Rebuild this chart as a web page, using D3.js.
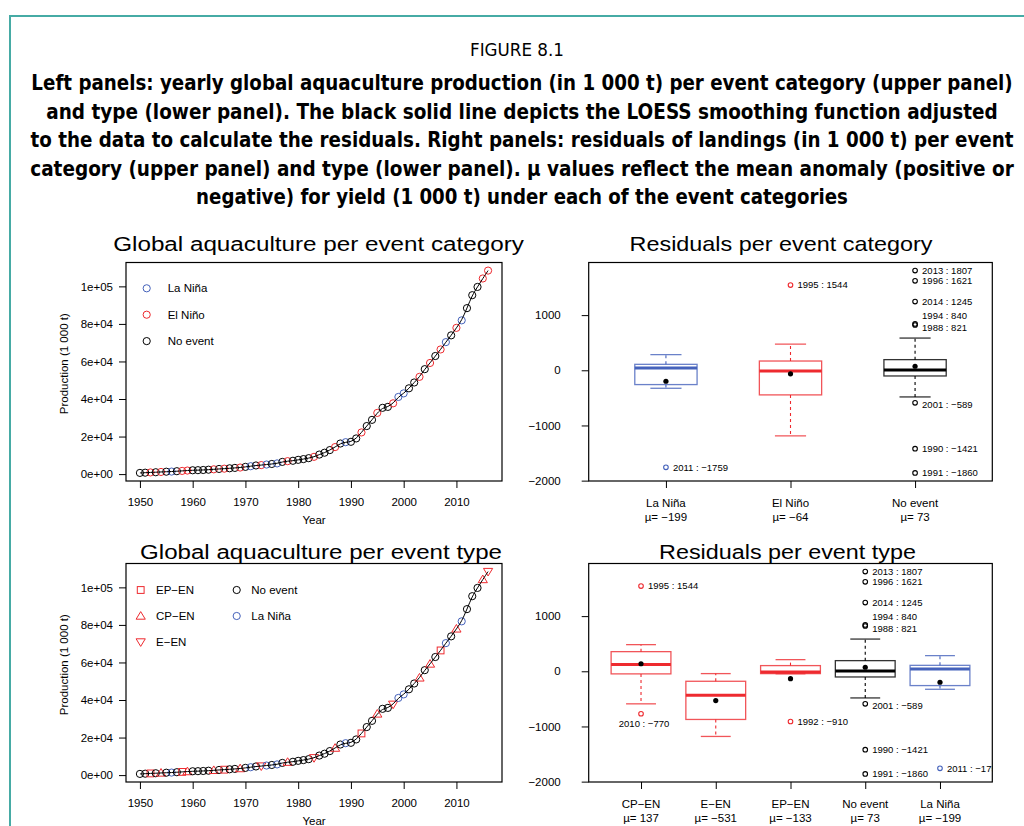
<!DOCTYPE html>
<html>
<head>
<meta charset="utf-8">
<script src="https://cdn.jsdelivr.net/npm/d3@7"></script>
<style>
  body { margin: 0; background: #fff; }
  svg { display: block; }
</style>
</head>
<body>
<script>
// ---- data ----
var figureLabel = "FIGURE 8.1";
var captionLines = [
  "Left panels: yearly global aquaculture production (in 1 000 t) per event category (upper panel)",
  "and type (lower panel). The black solid line depicts the LOESS smoothing function adjusted",
  "to the data to calculate the residuals. Right panels: residuals of landings (in 1 000 t) per event",
  "category (upper panel) and type (lower panel). \u00b5 values reflect the mean anomaly (positive or",
  "negative) for yield (1 000 t) under each of the event categories"
];

var years = [
  1950, 1951, 1952, 1953, 1954, 1955, 1956, 1957, 1958, 1959,
  1960, 1961, 1962, 1963, 1964, 1965, 1966, 1967, 1968, 1969,
  1970, 1971, 1972, 1973, 1974, 1975, 1976, 1977, 1978, 1979,
  1980, 1981, 1982, 1983, 1984, 1985, 1986, 1987, 1988, 1989,
  1990, 1991, 1992, 1993, 1994, 1995, 1996, 1997, 1998, 1999,
  2000, 2001, 2002, 2003, 2004, 2005, 2006, 2007, 2008, 2009,
  2010, 2011, 2012, 2013, 2014, 2015, 2016
];
var production = [
  640, 760, 900, 1000, 1150, 1280, 1350, 1550, 1700, 1900,
  2050, 2100, 2200, 2350, 2550, 2750, 2900, 3100, 3300, 3500,
  3850, 4200, 4600, 4800, 5100, 5400, 5700, 6500, 6900, 7100,
  7600, 8000, 8500, 9200, 10400, 11400, 12800, 14400, 16300, 17000,
  17200, 19000, 22200, 25600, 28900, 32600, 35300, 35800, 37700, 41100,
  43000, 45700, 48800, 51800, 55900, 59200, 62900, 66400, 70300, 73900,
  77900, 81900, 88400, 95300, 99700, 104200, 108400
];
// N = no event, L = La Niña, E = El Niño
var eventCategory = [
  "N","N","E","N","E","N","L","N","E","E",
  "N","N","N","N","E","N","E","N","N","E",
  "N","L","N","E","L","N","L","N","E","N",
  "N","N","N","E","N","N","N","E","N","L",
  "N","N","E","N","N","E","N","N","E","L",
  "L","N","N","E","N","E","N","E","L","N",
  "E","L","N","N","N","E","E"
];
var eventType = [
  "N","N","EP","N","CP","N","L","N","EP","CP",
  "N","N","N","N","CP","N","EP","N","N","CP",
  "N","L","N","EE","L","N","L","N","CP","N",
  "N","N","N","EE","N","N","N","CP","N","L",
  "N","N","EP","N","N","CP","N","N","EE","L",
  "L","N","N","CP","N","CP","N","EP","L","N",
  "CP","L","N","N","N","CP","EE"
];

var prodTicks = [0, 20000, 40000, 60000, 80000, 100000];
var yearTicks = [1950, 1960, 1970, 1980, 1990, 2000, 2010];
var residTicks = [-2000, -1000, 0, 1000];

// residuals per event category
var catNames  = ["La Ni\u00f1a", "El Ni\u00f1o", "No event"];
var catLow    = [-326, -1188, -483];
var catQ1     = [-259, -446, -103];
var catMedian = [42, -12, 5];
var catQ3     = [108, 168, 193];
var catHigh   = [284, 476, 584];
var catMean   = [-199, -64, 73];
var catOutliers = [
  [0, 2011, -1759],
  [1, 1995, 1544],
  [2, 2013, 1807], [2, 1996, 1621], [2, 2014, 1245], [2, 1994, 840],
  [2, 1988, 821], [2, 2001, -589], [2, 1990, -1421], [2, 1991, -1860]
];

// residuals per event type
var typeNames  = ["CP\u2212EN", "E\u2212EN", "EP\u2212EN", "No event", "La Ni\u00f1a"];
var typeLow    = [-590, -1181, -45, -483, -326];
var typeQ1     = [-47, -873, -42, -103, -259];
var typeMedian = [121, -434, -12, 5, 42];
var typeQ3     = [356, -181, 103, 193, 108];
var typeHigh   = [483, -42, 211, 584, 284];
var typeMean   = [137, -531, -133, 73, -199];
var typeOutliers = [
  [0, 1995, 1544], [0, 2010, -770],
  [2, 1992, -910],
  [3, 2013, 1807], [3, 1996, 1621], [3, 2014, 1245], [3, 1994, 840],
  [3, 1988, 821], [3, 2001, -589], [3, 1990, -1421], [3, 1991, -1860],
  [4, 2011, -1759]
];

// ---- styling ----
var BLUE = "#4562bb", RED = "#ee2a2f", BLACK = "#000";
var FONT = "'Liberation Sans', Arial, sans-serif";
var NARROW = "'Liberation Sans Narrow', 'DejaVu Sans Condensed', 'Liberation Sans', sans-serif";
var MINUS = "\u2212";
var catColor = { N: BLACK, L: BLUE, E: RED };
var typeStyle = {
  N: { shape: "circle", color: BLACK },
  L: { shape: "circle", color: BLUE },
  EP: { shape: "square", color: RED },
  CP: { shape: "up", color: RED },
  EE: { shape: "down", color: RED }
};
// special placement of a few outlier labels
var labelNudge = { 1994: -8, 1988: 2.5, 2001: 2 };

function pad(e) { var p = (e[1] - e[0]) * 0.04; return [e[0] - p, e[1] + p]; }
function num(v) { return (v < 0 ? MINUS : "") + Math.abs(v); }
function sci(v) {
  return d3.format(".0e")(v).replace(/e([+-])(\d)$/, "e$10$2");
}

var svg = d3.select("body").append("svg")
  .attr("width", 1024).attr("height", 826)
  .style("font-family", FONT);
var defs = svg.append("defs");

// text squeezed/stretched horizontally to a given width, centred on cx
function fitText(cx, y, width, t, family, size, weight) {
  var el = svg.append("text")
    .attr("x", 0).attr("y", 0).attr("text-anchor", "middle")
    .attr("font-family", family).attr("font-size", size)
    .attr("font-weight", weight || "normal")
    .text(t);
  var w = el.node().getComputedTextLength() || width;
  el.attr("transform", "translate(" + cx + "," + y + ") scale(" + (width / w) + ",1)");
  return el;
}

// frame
svg.append("path")
  .attr("d", "M10,830V16H1030")
  .attr("fill", "none").attr("stroke", "#46aba5").attr("stroke-width", 2);

// caption
fitText(517, 56, 94, figureLabel, NARROW, 18);
var captionWidths = [982, 952, 984, 984, 652];
captionLines.forEach(function (t, i) {
  fitText(522, 90 + i * 28.5, captionWidths[i], t, NARROW, 21, "bold");
});

function drawSymbol(g, shape, color, cx, cy) {
  if (shape === "circle") {
    g.append("circle").attr("cx", cx).attr("cy", cy).attr("r", 3.6)
      .attr("fill", "none").attr("stroke", color).attr("stroke-width", 1);
  } else if (shape === "square") {
    g.append("rect").attr("x", cx - 3.4).attr("y", cy - 3.4)
      .attr("width", 6.8).attr("height", 6.8)
      .attr("fill", "none").attr("stroke", color).attr("stroke-width", 1);
  } else {
    var s = shape === "up" ? 1 : -1;
    g.append("path")
      .attr("d", "M" + cx + "," + (cy - 4.4 * s) + "L" + (cx + 4.6) + "," + (cy + 3.2 * s) +
        "L" + (cx - 4.6) + "," + (cy + 3.2 * s) + "Z")
      .attr("fill", "none").attr("stroke", color).attr("stroke-width", 1);
  }
}

function styleAxis(g) {
  g.select(".domain").remove();
  g.selectAll("line").attr("stroke", BLACK);
  g.selectAll("text").attr("fill", BLACK).attr("font-size", 11.5).attr("font-family", FONT);
}

// ---- left panels: production ----
var LX0 = 126, LX1 = 502, PH = 218.5;
var xYear = d3.scaleLinear().domain(pad(d3.extent(years))).range([LX0, LX1]);

function scatterPanel(top, styleOf) {
  var bottom = top + PH;
  var y = d3.scaleLinear().domain(pad(d3.extent(production))).range([bottom, top]);
  var g = svg.append("g");

  years.forEach(function (yr, i) {
    var st = styleOf(i);
    drawSymbol(g, st.shape, st.color, xYear(yr), y(production[i]));
  });

  g.append("path").datum(years)
    .attr("d", d3.line()
      .x(function (d) { return xYear(d); })
      .y(function (d, i) { return y(production[i]); })
      .curve(d3.curveBasis))
    .attr("fill", "none").attr("stroke", BLACK).attr("stroke-width", 1);

  g.append("rect").attr("x", LX0).attr("y", top).attr("width", LX1 - LX0).attr("height", PH)
    .attr("fill", "none").attr("stroke", BLACK).attr("stroke-width", 1.2);

  g.append("g").attr("transform", "translate(" + LX0 + ",0)")
    .call(d3.axisLeft(y).tickValues(prodTicks).tickSize(7).tickPadding(6).tickFormat(sci))
    .call(styleAxis);
  g.append("g").attr("transform", "translate(0," + bottom + ")")
    .call(d3.axisBottom(xYear).tickValues(yearTicks).tickSize(7).tickPadding(10).tickFormat(d3.format("d")))
    .call(styleAxis);

  g.append("text").attr("x", (LX0 + LX1) / 2).attr("y", bottom + 43)
    .attr("text-anchor", "middle").attr("font-size", 11.5).text("Year");
  g.append("text")
    .attr("transform", "translate(68," + (top + PH / 2 - 8) + ") rotate(-90)")
    .attr("text-anchor", "middle").attr("font-size", 11.5).text("Production (1 000 t)");
  return g;
}

// upper left
fitText(318.5, 251, 411, "Global aquaculture per event category", FONT, 21);
var ul = scatterPanel(262.5, function (i) {
  return { shape: "circle", color: catColor[eventCategory[i]] };
});
[["L", "La Ni\u00f1a"], ["E", "El Ni\u00f1o"], ["N", "No event"]].forEach(function (d, i) {
  var cy = 288.3 + i * 26.4;
  drawSymbol(ul, "circle", catColor[d[0]], 146.7, cy);
  ul.append("text").attr("x", 167.7).attr("y", cy).attr("dy", "0.35em")
    .attr("font-size", 11.5).text(d[1]);
});

// lower left
fitText(321, 559, 362, "Global aquaculture per event type", FONT, 21);
var ll = scatterPanel(563.5, function (i) { return typeStyle[eventType[i]]; });
[["EP", "EP\u2212EN", 0, 0], ["CP", "CP\u2212EN", 0, 1], ["EE", "E\u2212EN", 0, 2],
 ["N", "No event", 1, 0], ["L", "La Ni\u00f1a", 1, 1]].forEach(function (d) {
  var st = typeStyle[d[0]];
  var sx = d[2] ? 236.7 : 140.7, tx = d[2] ? 251.3 : 156, cy = 590 + d[3] * 26;
  drawSymbol(ll, st.shape, st.color, sx, cy);
  ll.append("text").attr("x", tx).attr("y", cy).attr("dy", "0.35em")
    .attr("font-size", 11.5).text(d[1]);
});

// ---- right panels: residual boxplots ----
var RX0 = 588.7, RX1 = 992.3;

function boxPanel(top, id, names, low, q1, med, q3, high, mean, outliers, colors, boxW) {
  var bottom = top + PH, n = names.length;
  var all = low.concat(high, outliers.map(function (o) { return o[2]; }));
  var y = d3.scaleLinear().domain(pad(d3.extent(all))).range([bottom, top]);
  var x = d3.scaleLinear().domain([0.5 - 0.04 * n, n + 0.5 + 0.04 * n]).range([RX0, RX1]);
  var unit = x(2) - x(1), hw = unit * boxW / 2;
  var g = svg.append("g");

  defs.append("clipPath").attr("id", id).append("rect")
    .attr("x", RX0).attr("y", top).attr("width", RX1 - RX0).attr("height", PH);

  names.forEach(function (nm, i) {
    var cx = x(i + 1), c = colors[i];
    var bg = g.append("g");
    bg.append("line").attr("x1", cx).attr("x2", cx).attr("y1", y(q3[i])).attr("y2", y(high[i]))
      .attr("stroke", c).attr("stroke-dasharray", "3,3").attr("stroke-width", 1.1);
    bg.append("line").attr("x1", cx).attr("x2", cx).attr("y1", y(q1[i])).attr("y2", y(low[i]))
      .attr("stroke", c).attr("stroke-dasharray", "3,3").attr("stroke-width", 1.1);
    [high[i], low[i]].forEach(function (v) {
      bg.append("line").attr("x1", cx - hw / 2).attr("x2", cx + hw / 2)
        .attr("y1", y(v)).attr("y2", y(v))
        .attr("stroke", c).attr("stroke-width", 1.3).attr("stroke-opacity", 0.8);
    });
    bg.append("rect").attr("x", cx - hw).attr("width", 2 * hw)
      .attr("y", y(q3[i])).attr("height", y(q1[i]) - y(q3[i]))
      .attr("fill", "none").attr("stroke", c).attr("stroke-width", 1.3).attr("stroke-opacity", 0.8);
    bg.append("line").attr("x1", cx - hw).attr("x2", cx + hw)
      .attr("y1", y(med[i])).attr("y2", y(med[i]))
      .attr("stroke", c).attr("stroke-width", 3);
    bg.append("circle").attr("cx", cx).attr("cy", y(mean[i])).attr("r", 2.6).attr("fill", BLACK);

    g.append("text").attr("x", cx).attr("y", bottom + 25.5).attr("text-anchor", "middle")
      .attr("font-size", 11.5).text(nm);
    g.append("text").attr("x", cx).attr("y", bottom + 39.5).attr("text-anchor", "middle")
      .attr("font-size", 11.5).text("\u00b5= " + num(Math.round(mean[i])));
  });

  var lab = g.append("g").attr("clip-path", "url(#" + id + ")");
  outliers.forEach(function (o) {
    var cx = x(o[0] + 1), cy = y(o[2]);
    g.append("circle").attr("cx", cx).attr("cy", cy).attr("r", 2.3)
      .attr("fill", "none").attr("stroke", colors[o[0]]).attr("stroke-width", 1.1);
    var t = o[1] + " : " + num(o[2]);
    if (o[1] === 2010) {
      lab.append("text").attr("x", cx + 3).attr("y", cy + 10).attr("dy", "0.35em")
        .attr("text-anchor", "middle").attr("font-size", 9.5).text(t);
    } else {
      lab.append("text").attr("x", cx + 7).attr("y", cy + (labelNudge[o[1]] || 0))
        .attr("dy", "0.35em").attr("font-size", 9.5).text(t);
    }
  });

  g.append("rect").attr("x", RX0).attr("y", top).attr("width", RX1 - RX0).attr("height", PH)
    .attr("fill", "none").attr("stroke", BLACK).attr("stroke-width", 1.2);
  g.append("g").attr("transform", "translate(" + RX0 + ",0)")
    .call(d3.axisLeft(y).tickValues(residTicks).tickSize(7).tickPadding(21)
      .tickFormat(function (d) { return num(d); }))
    .call(styleAxis);
  g.append("g").attr("transform", "translate(0," + bottom + ")")
    .call(d3.axisBottom(x).tickValues(d3.range(1, n + 1)).tickSize(7).tickFormat(""))
    .call(styleAxis);
}

fitText(781, 251, 303, "Residuals per event category", FONT, 21);
boxPanel(262.5, "clipCat", catNames, catLow, catQ1, catMedian, catQ3, catHigh, catMean,
  catOutliers, [BLUE, RED, BLACK], 0.5);

fitText(787.5, 559, 257, "Residuals per event type", FONT, 21);
boxPanel(563.5, "clipType", typeNames, typeLow, typeQ1, typeMedian, typeQ3, typeHigh, typeMean,
  typeOutliers, [RED, RED, RED, BLACK, BLUE], 0.8);
</script>
</body>
</html>
